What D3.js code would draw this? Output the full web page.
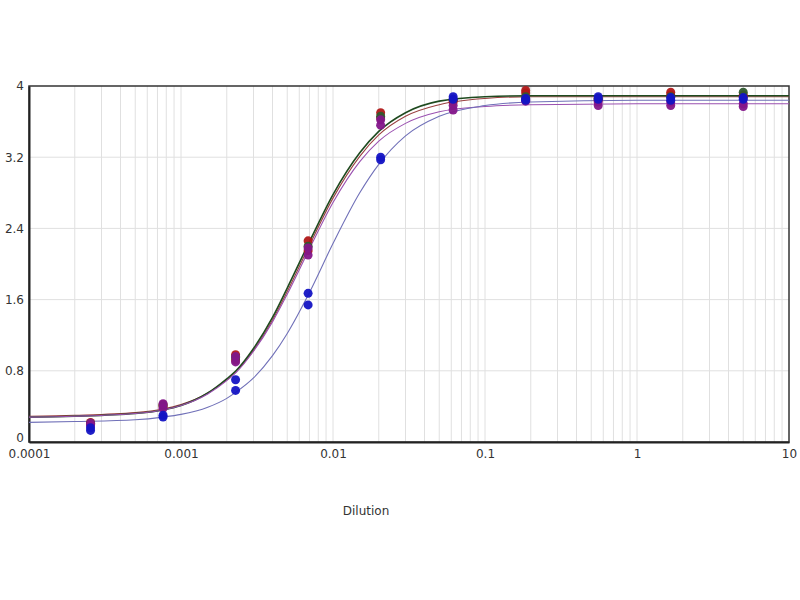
<!DOCTYPE html>
<html><head><meta charset="utf-8">
<script src="https://cdn.jsdelivr.net/npm/d3@7"></script>
<style>body{margin:0;background:#fff}svg{display:block}</style>
</head><body><svg id="c" width="800" height="600"></svg>
<script>
// ---- data ----
const dilutions = [5, 1.6667, 0.5556, 0.1852, 0.06173, 0.02058, 0.006859, 0.002286, 0.000762, 0.000254].reverse();
const xTickValues = [0.0001, 0.001, 0.01, 0.1, 1, 10];
const xTickLabels = ["0.0001", "0.001", "0.01", "0.1", "1", "10"];
const yTickValues = [0, 0.8, 1.6, 2.4, 3.2, 4];
const yTickLabels = ["0", "0.8", "1.6", "2.4", "3.2", "4"];
const xTitle = "Dilution";

// replicate readings (ascending dilution order)
const redRep1    = [0.22, 0.42, 0.98, 2.26, 3.70, 3.84, 3.95, 3.86, 3.93, 3.90];
const redRep2    = [0.20, 0.40, 0.92, 2.15, 3.64, 3.82, 3.92, 3.84, 3.90, 3.88];
const greenRep1  = [0.21, 0.41, 0.95, 2.20, 3.66, 3.85, 3.88, 3.86, 3.88, 3.93];
const purpleRep1 = [0.19, 0.38, 0.90, 2.10, 3.56, 3.73, 3.83, 3.78, 3.78, 3.77];
const purpleRep2 = [0.21, 0.43, 0.96, 2.18, 3.62, 3.78, 3.85, 3.82, 3.82, 3.80];
const blueRep1   = [0.13, 0.30, 0.70, 1.67, 3.20, 3.88, 3.86, 3.88, 3.87, 3.87];
const blueRep2   = [0.16, 0.28, 0.58, 1.54, 3.17, 3.85, 3.84, 3.85, 3.84, 3.85];

// fitted curves
const curveX      = [0.0001, 0.0002, 0.0005, 0.00076, 0.001, 0.0015, 0.002, 0.0023, 0.003, 0.004, 0.005, 0.007, 0.01, 0.015, 0.02, 0.03, 0.05, 0.1, 0.2, 1, 10];
const redCurve    = [0.29, 0.30, 0.33, 0.37, 0.42, 0.55, 0.70, 0.79, 1.03, 1.37, 1.69, 2.21, 2.74, 3.21, 3.45, 3.66, 3.79, 3.86, 3.88, 3.88, 3.88];
const greenCurve  = [0.28, 0.29, 0.32, 0.36, 0.41, 0.55, 0.71, 0.80, 1.05, 1.40, 1.73, 2.25, 2.78, 3.25, 3.49, 3.70, 3.83, 3.88, 3.89, 3.89, 3.89];
const purpleCurve = [0.28, 0.29, 0.32, 0.36, 0.41, 0.54, 0.69, 0.78, 1.02, 1.35, 1.66, 2.17, 2.69, 3.15, 3.38, 3.58, 3.71, 3.77, 3.79, 3.80, 3.80];
const blueCurve   = [0.22, 0.23, 0.25, 0.28, 0.31, 0.39, 0.49, 0.56, 0.72, 0.97, 1.22, 1.68, 2.23, 2.80, 3.12, 3.44, 3.66, 3.78, 3.82, 3.84, 3.84];

const series = [
  {curve: redCurve, reps: [redRep1, redRep2], line: "#9a4040", dot: "#b01818", w: 1.1},
  {curve: greenCurve, reps: [greenRep1], line: "#1f4a1f", dot: "#2f5a2f", w: 1.6},
  {curve: purpleCurve, reps: [purpleRep1, purpleRep2], line: "#9a50b0", dot: "#84168a", w: 1.1},
  {curve: blueCurve, reps: [blueRep1, blueRep2], line: "#7070b8", dot: "#1414c4", w: 1.1}
];

// ---- layout ----
const m = {l: 29, r: 11, t: 86, b: 158};
const W = 800, H = 600;
const svg = d3.select("#c");
const x = d3.scaleLog().domain([0.0001, 10]).range([m.l, W - m.r]);
const y = d3.scaleLinear().domain([0, 4]).range([H - m.b, m.t]);
const font = "'DejaVu Sans', Verdana, sans-serif";

// grid
const minor = [];
for (let e = -4; e < 1; e++) for (let k = 1; k < 10; k++) minor.push(k * Math.pow(10, e));
svg.append("g").selectAll("line").data(minor.filter(v => v > 0.0001)).join("line")
  .attr("x1", d => x(d)).attr("x2", d => x(d)).attr("y1", y(0)).attr("y2", y(4))
  .attr("stroke", "#e0e0e0").attr("stroke-width", 1);
svg.append("g").selectAll("line").data(yTickValues.slice(1, -1)).join("line")
  .attr("x1", x(0.0001)).attr("x2", x(10)).attr("y1", d => y(d)).attr("y2", d => y(d))
  .attr("stroke", "#e0e0e0").attr("stroke-width", 1);

// frame
svg.append("rect").attr("x", x(0.0001)).attr("y", y(4)).attr("width", x(10) - x(0.0001)).attr("height", y(0) - y(4))
  .attr("fill", "none").attr("stroke", "#333").attr("stroke-width", 1.5);

// axes (labels only)
const xAxis = d3.axisBottom(x).tickValues(xTickValues).tickFormat((d, i) => xTickLabels[i]).tickSize(0).tickPadding(7);
const gx = svg.append("g").attr("transform", `translate(0,${y(0)})`).call(xAxis);
gx.select(".domain").attr("stroke", "#222").attr("stroke-width", 2);
gx.selectAll("text").attr("font-family", font).attr("font-size", 12).attr("fill", "#333");
const yAxis = d3.axisLeft(y).tickValues(yTickValues).tickFormat((d, i) => yTickLabels[i]).tickSize(0).tickPadding(5);
const gy = svg.append("g").attr("transform", `translate(${x(0.0001)},0)`).call(yAxis);
gy.select(".domain").attr("stroke", "#222").attr("stroke-width", 2);
gy.selectAll("text").attr("font-family", font).attr("font-size", 12).attr("fill", "#333");
gy.selectAll(".tick").filter(d => d === 0).select("text").attr("dy", "-0.05em");

svg.append("text").attr("x", 366).attr("y", 515).attr("text-anchor", "middle")
  .attr("font-family", font).attr("font-size", 12).attr("fill", "#333").text(xTitle);

// curves
const line = d3.line().x(d => x(d[0])).y(d => y(d[1])).curve(d3.curveMonotoneX);
series.forEach(s => {
  svg.append("path").datum(curveX.map((v, i) => [v, s.curve[i]]))
    .attr("d", line).attr("fill", "none").attr("stroke", s.line).attr("stroke-width", s.w);
});

// points
series.forEach(s => {
  s.reps.forEach(r => {
    svg.append("g").selectAll("circle").data(dilutions.map((v, i) => [v, r[i]])).join("circle")
      .attr("cx", d => x(d[0])).attr("cy", d => y(d[1])).attr("r", 4.5)
      .attr("fill", s.dot).attr("opacity", 0.95);
  });
});
</script></body></html>
